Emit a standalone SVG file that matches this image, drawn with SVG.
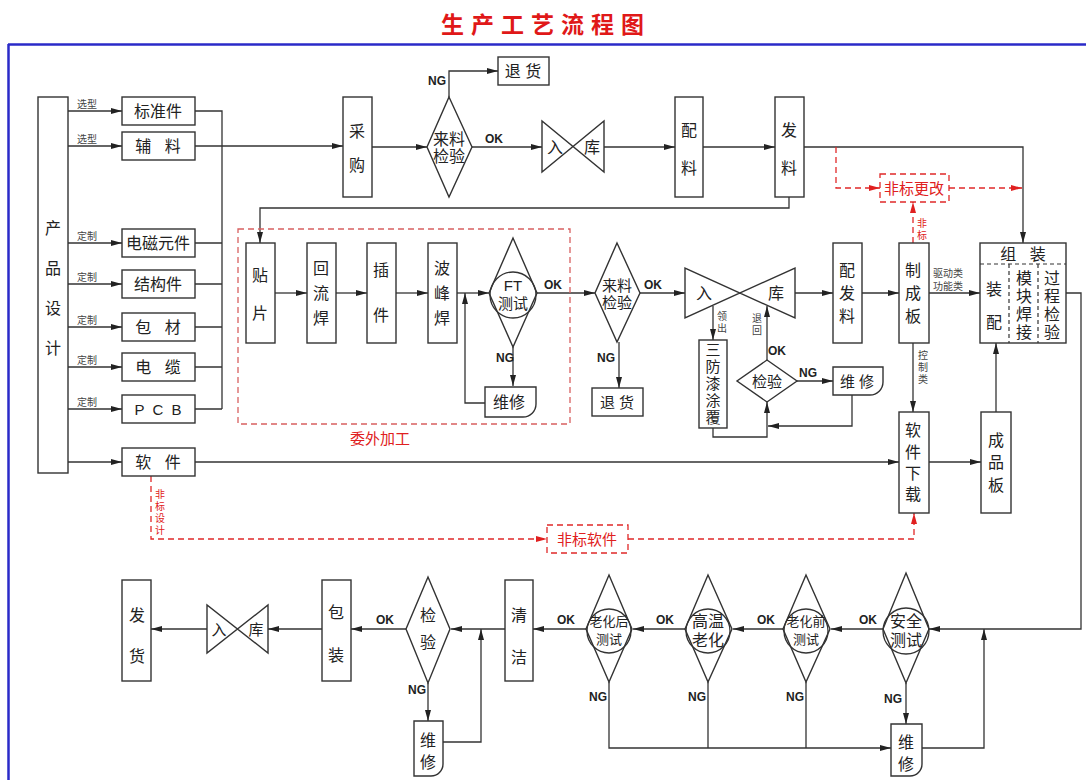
<svg xmlns="http://www.w3.org/2000/svg" width="1086" height="780" viewBox="0 0 1086 780">
<style>
text{font-family:"Liberation Sans","Noto Sans CJK SC",sans-serif;fill:#222;text-anchor:middle;dominant-baseline:central}
.b{fill:#fff;stroke:#333;stroke-width:1.4}
.c{fill:none;stroke:#333;stroke-width:1.3}
.r{fill:none;stroke:#e02828;stroke-width:1.3;stroke-dasharray:6 4}
.rb{fill:#fff;stroke:#e02828;stroke-width:1.3;stroke-dasharray:6 4}
.t16{font-size:16px}
.t15{font-size:15px}
.t13{font-size:13px}
.s{font-size:10px;fill:#444}
.ok{font-size:12px;font-weight:bold}
.red{fill:#e02020}
.dl{fill:none;stroke:#333;stroke-width:1.2;stroke-dasharray:4 3}
</style>
<defs>
<marker id="a" markerUnits="userSpaceOnUse" markerWidth="12" markerHeight="8" refX="11" refY="3" orient="auto"><path d="M0,0 L11,3 L0,6 z" fill="#222"/></marker>
<marker id="ar" markerUnits="userSpaceOnUse" markerWidth="12" markerHeight="8" refX="11" refY="3" orient="auto"><path d="M0,0 L11,3 L0,6 z" fill="#e02020"/></marker>
</defs>
<rect width="1086" height="780" fill="#fff"/>
<text x="546" y="25" style="font-size:23px;font-weight:bold;letter-spacing:7px;fill:#e01818">生产工艺流程图</text>
<g id="frame">
<line x1="8" y1="44.5" x2="1086" y2="44.5" stroke="#2a2ac8" stroke-width="2.5"/>
<line x1="8.5" y1="44" x2="8.5" y2="780" stroke="#2a2ac8" stroke-width="2.5"/>
</g>
<g id="connectors">
<path class="c" marker-end="url(#a)" d="M68,111H122"/>
<path class="c" marker-end="url(#a)" d="M68,146H122"/>
<path class="c" marker-end="url(#a)" d="M68,243H122"/>
<path class="c" marker-end="url(#a)" d="M68,284H122"/>
<path class="c" marker-end="url(#a)" d="M68,327H122"/>
<path class="c" marker-end="url(#a)" d="M68,367H122"/>
<path class="c" marker-end="url(#a)" d="M68,409H122"/>
<path class="c" marker-end="url(#a)" d="M68,462H122"/>
<path class="c" d="M195,111H222V409M195,243H222M195,284H222M195,327H222M195,367H222M195,409H222"/>
<path class="c" marker-end="url(#a)" d="M195,146H343"/>
<path class="c" marker-end="url(#a)" d="M372,147H427"/>
<path class="c" marker-end="url(#a)" d="M449,97V71H498"/>
<path class="c" marker-end="url(#a)" d="M472,147H542"/>
<path class="c" marker-end="url(#a)" d="M604,147H675"/>
<path class="c" marker-end="url(#a)" d="M703,147H775"/>
<path class="c" marker-end="url(#a)" d="M804,147H1023V243"/>
<path class="c" marker-end="url(#a)" d="M789,197V208H260V243"/>
<path class="r" marker-end="url(#ar)" d="M836,147V188H880"/>
<path class="r" marker-end="url(#ar)" d="M949,188H1022"/>
<path class="r" marker-end="url(#ar)" d="M913,243V202"/>
<path class="c" marker-end="url(#a)" d="M275,293H307"/>
<path class="c" marker-end="url(#a)" d="M336,293H367"/>
<path class="c" marker-end="url(#a)" d="M396,293H428"/>
<path class="c" marker-end="url(#a)" d="M457,293H489"/>
<path class="c" marker-end="url(#a)" d="M513,347V386"/>
<path class="c" marker-end="url(#a)" d="M485,403H465V293"/>
<path class="c" marker-end="url(#a)" d="M537,293H595"/>
<path class="c" marker-end="url(#a)" d="M619,342V388"/>
<path class="c" marker-end="url(#a)" d="M640,293H685"/>
<path class="c" marker-end="url(#a)" d="M795,293H833"/>
<path class="c" marker-end="url(#a)" d="M862,293H899"/>
<path class="c" marker-end="url(#a)" d="M929,293H980"/>
<path class="c" marker-end="url(#a)" d="M713,306V340"/>
<path class="c" marker-end="url(#a)" d="M767,360V306"/>
<path class="c" marker-end="url(#a)" d="M713,428V437H767V402"/>
<path class="c" marker-end="url(#a)" d="M797,381H833"/>
<path class="c" marker-end="url(#a)" d="M852,395V426H768"/>
<path class="c" marker-end="url(#a)" d="M913,343V412"/>
<path class="c" marker-end="url(#a)" d="M195,462H899"/>
<path class="c" marker-end="url(#a)" d="M929,462H981"/>
<path class="c" marker-end="url(#a)" d="M996,412V343"/>
<path class="c" marker-end="url(#a)" d="M1066,293H1081V629H929"/>
<path class="r" marker-end="url(#ar)" d="M151,476V539H547"/>
<path class="r" marker-end="url(#ar)" d="M628,539H914V513"/>
<path class="c" marker-end="url(#a)" d="M884,629H831"/>
<path class="c" marker-end="url(#a)" d="M783,629H733"/>
<path class="c" marker-end="url(#a)" d="M685,629H633"/>
<path class="c" marker-end="url(#a)" d="M586,629H533"/>
<path class="c" marker-end="url(#a)" d="M505,629H451"/>
<path class="c" marker-end="url(#a)" d="M406,629H351"/>
<path class="c" marker-end="url(#a)" d="M322,629H268"/>
<path class="c" marker-end="url(#a)" d="M207,629H151"/>
<path class="c" marker-end="url(#a)" d="M428,683V721"/>
<path class="c" marker-end="url(#a)" d="M443,742H481V629"/>
<path class="c" marker-end="url(#a)" d="M609,682V748H891"/>
<path class="c" d="M708,682V748M806,682V748"/>
<path class="c" marker-end="url(#a)" d="M906,683V724"/>
<path class="c" marker-end="url(#a)" d="M922,748H984V629"/>
</g>
<g id="labels">
<text class="s" x="87" y="104">选型</text>
<text class="s" x="87" y="139">选型</text>
<text class="s" x="87" y="236">定制</text>
<text class="s" x="87" y="277">定制</text>
<text class="s" x="87" y="320">定制</text>
<text class="s" x="87" y="360">定制</text>
<text class="s" x="87" y="402">定制</text>
<text class="ok" x="437" y="81">NG</text>
<text class="ok" x="494" y="139">OK</text>
<text class="ok" x="553" y="285">OK</text>
<text class="ok" x="505" y="358">NG</text>
<text class="ok" x="653" y="285">OK</text>
<text class="ok" x="606" y="358">NG</text>
<text class="s" x="722" y="316">领</text>
<text class="s" x="722" y="328">出</text>
<text class="s" x="757" y="318">退</text>
<text class="s" x="757" y="330">回</text>
<text class="ok" x="777" y="351">OK</text>
<text class="ok" x="808" y="373">NG</text>
<text class="s" x="948" y="273">驱动类</text>
<text class="s" x="948" y="286">功能类</text>
<text class="s" x="923" y="355">控</text>
<text class="s" x="923" y="367">制</text>
<text class="s" x="923" y="379">类</text>
<text class="s red" x="922" y="223">非</text>
<text class="s red" x="922" y="235">标</text>
<text class="s red" x="160" y="494">非</text>
<text class="s red" x="160" y="506">标</text>
<text class="s red" x="160" y="518">设</text>
<text class="s red" x="160" y="530">计</text>
<text class="ok" x="868" y="620">OK</text>
<text class="ok" x="766" y="620">OK</text>
<text class="ok" x="665" y="620">OK</text>
<text class="ok" x="566" y="620">OK</text>
<text class="ok" x="385" y="620">OK</text>
<text class="ok" x="417" y="690">NG</text>
<text class="ok" x="598" y="697">NG</text>
<text class="ok" x="697" y="697">NG</text>
<text class="ok" x="795" y="697">NG</text>
<text class="ok" x="893" y="699">NG</text>
</g>
<g id="n_design"><rect class="b" x="38" y="97" width="30" height="376"/><text class="t16" x="53" y="228">产</text><text class="t16" x="53" y="268">品</text><text class="t16" x="53" y="308">设</text><text class="t16" x="53" y="348">计</text></g>
<g id="n_bzj"><rect class="b" x="122" y="97" width="73" height="28"/><text class="t16" x="158" y="111">标准件</text></g>
<g id="n_fl"><rect class="b" x="122" y="132" width="73" height="28"/><text class="t16" x="158" y="146" xml:space="preserve">辅   料</text></g>
<g id="n_dc"><rect class="b" x="122" y="229" width="73" height="28"/><text class="t16" x="158" y="243">电磁元件</text></g>
<g id="n_jg"><rect class="b" x="122" y="270" width="73" height="28"/><text class="t16" x="158" y="284">结构件</text></g>
<g id="n_bc"><rect class="b" x="122" y="313" width="73" height="28"/><text class="t16" x="158" y="327" xml:space="preserve">包   材</text></g>
<g id="n_dl"><rect class="b" x="122" y="353" width="73" height="28"/><text class="t16" x="158" y="367" xml:space="preserve">电   缆</text></g>
<g id="n_pcb"><rect class="b" x="122" y="395" width="73" height="28"/><text class="t15" x="158" y="409" xml:space="preserve">P  C  B</text></g>
<g id="n_rj"><rect class="b" x="122" y="448" width="73" height="28"/><text class="t16" x="158" y="462" xml:space="preserve">软   件</text></g>
<g id="n_cg"><rect class="b" x="343" y="97" width="29" height="100"/><text class="t16" x="357" y="131">采</text><text class="t16" x="357" y="165">购</text></g>
<g id="n_lljy1"><path class="b" d="M449,97L472,147L449,197L427,147Z"/><text class="t16" x="449" y="139">来料</text><text class="t16" x="449" y="156">检验</text></g>
<g id="n_th1"><rect class="b" x="498" y="57" width="51" height="28"/><text class="t16" x="523" y="71" xml:space="preserve">退 货</text></g>
<g id="n_rk1"><path class="b" d="M542,121L542,172L604,121L604,172Z"/><text class="t16" x="555" y="147">入</text><text class="t16" x="592" y="147">库</text></g>
<g id="n_pl"><rect class="b" x="675" y="97" width="28" height="100"/><text class="t16" x="689" y="130">配</text><text class="t16" x="689" y="168">料</text></g>
<g id="n_fal"><rect class="b" x="775" y="97" width="29" height="100"/><text class="t16" x="789" y="130">发</text><text class="t16" x="789" y="168">料</text></g>
<g id="n_fbgg"><rect class="rb" x="880" y="174" width="69" height="28"/><text class="t15 red" x="914" y="188">非标更改</text></g>
<g id="g_wwjg"><rect class="r" style="stroke:#d86060" x="238" y="229" width="332" height="195"/><text class="t15 red" x="380" y="438">委外加工</text></g>
<g id="n_tp"><rect class="b" x="246" y="243" width="29" height="100"/><text class="t16" x="260" y="275">贴</text><text class="t16" x="260" y="313">片</text></g>
<g id="n_hlh"><rect class="b" x="307" y="243" width="29" height="100"/><text class="t16" x="321" y="268">回</text><text class="t16" x="321" y="293">流</text><text class="t16" x="321" y="318">焊</text></g>
<g id="n_cj"><rect class="b" x="367" y="243" width="29" height="100"/><text class="t16" x="381" y="270">插</text><text class="t16" x="381" y="315">件</text></g>
<g id="n_bfh"><rect class="b" x="428" y="243" width="29" height="100"/><text class="t16" x="442" y="268">波</text><text class="t16" x="442" y="293">峰</text><text class="t16" x="442" y="318">焊</text></g>
<g id="n_ft"><path class="b" d="M513,238L537,293L513,347L489,293Z"/><circle class="c" cx="513" cy="295" r="23"/><text class="t15" x="513" y="285">FT</text><text class="t15" x="513" y="303">测试</text></g>
<g id="n_wx1"><path class="b" d="M485,387H536V404A13,13 0 0 1 523,417H485Z"/><text class="t16" x="509" y="402">维修</text></g>
<g id="n_lljy2"><path class="b" d="M617,243L640,293L617,342L595,293Z"/><text class="t15" x="617" y="285">来料</text><text class="t15" x="617" y="302">检验</text></g>
<g id="n_th2"><rect class="b" x="592" y="388" width="51" height="28"/><text class="t15" x="617" y="402" xml:space="preserve">退 货</text></g>
<g id="n_rk2"><path class="b" d="M685,268L685,318L795,268L795,318Z"/><text class="t16" x="704" y="293">入</text><text class="t16" x="776" y="293">库</text></g>
<g id="n_sfq"><rect class="b" x="699" y="340" width="28" height="88"/><text class="t15" x="713" y="349">三</text><text class="t15" x="713" y="366">防</text><text class="t15" x="713" y="383">漆</text><text class="t15" x="713" y="400">涂</text><text class="t15" x="713" y="417">覆</text></g>
<g id="n_jy1"><path class="b" d="M767,360L797,381L767,402L737,381Z"/><text class="t15" x="767" y="381">检验</text></g>
<g id="n_wx2"><path class="b" d="M833,367H883V382A13,13 0 0 1 870,395H833Z"/><text class="t15" x="857" y="381" xml:space="preserve">维 修</text></g>
<g id="n_pfl"><rect class="b" x="833" y="243" width="29" height="100"/><text class="t16" x="847" y="270">配</text><text class="t16" x="847" y="293">发</text><text class="t16" x="847" y="316">料</text></g>
<g id="n_zcb"><rect class="b" x="899" y="243" width="30" height="100"/><text class="t16" x="913" y="270">制</text><text class="t16" x="913" y="293">成</text><text class="t16" x="913" y="316">板</text></g>
<g id="n_zz"><rect class="b" x="980" y="243" width="86" height="100"/><path class="dl" d="M980,264H1066M1009,264V343M1038,264V343"/><text class="t16" x="1023" y="254" xml:space="preserve">组   装</text><text class="t16" x="994" y="289">装</text><text class="t16" x="994" y="322">配</text><text class="t16" x="1024" y="278">模</text><text class="t16" x="1024" y="296">块</text><text class="t16" x="1024" y="314">焊</text><text class="t16" x="1024" y="332">接</text><text class="t16" x="1052" y="278">过</text><text class="t16" x="1052" y="296">程</text><text class="t16" x="1052" y="314">检</text><text class="t16" x="1052" y="332">验</text></g>
<g id="n_rjxz"><rect class="b" x="899" y="412" width="30" height="101"/><text class="t16" x="913" y="430">软</text><text class="t16" x="913" y="452">件</text><text class="t16" x="913" y="473">下</text><text class="t16" x="913" y="494">载</text></g>
<g id="n_cpb"><rect class="b" x="981" y="412" width="30" height="101"/><text class="t16" x="996" y="440">成</text><text class="t16" x="996" y="462">品</text><text class="t16" x="996" y="485">板</text></g>
<g id="n_fbrj"><rect class="rb" x="547" y="525" width="81" height="28"/><text class="t15 red" x="587" y="539">非标软件</text></g>
<g id="n_aqcs"><path class="b" d="M906,573L929,629L906,683L883,629Z"/><circle class="c" cx="906" cy="631" r="23"/><text class="t16" x="906" y="621">安全</text><text class="t16" x="906" y="640">测试</text></g>
<g id="n_lhqcs"><path class="b" d="M806,575L830,629L806,682L783,629Z"/><circle class="c" cx="806" cy="631" r="22"/><text class="t13" x="806" y="621">老化前</text><text class="t13" x="806" y="639">测试</text></g>
<g id="n_gwlh"><path class="b" d="M708,575L732,629L708,682L685,629Z"/><circle class="c" cx="708" cy="631" r="22"/><text class="t16" x="708" y="621">高温</text><text class="t16" x="708" y="640">老化</text></g>
<g id="n_lhhcs"><path class="b" d="M609,575L632,629L609,682L586,629Z"/><circle class="c" cx="609" cy="631" r="22"/><text class="t13" x="609" y="621">老化后</text><text class="t13" x="609" y="639">测试</text></g>
<g id="n_qj"><rect class="b" x="505" y="580" width="28" height="101"/><text class="t16" x="519" y="615">清</text><text class="t16" x="519" y="657">洁</text></g>
<g id="n_jy2"><path class="b" d="M428,577L450,629L428,683L406,629Z"/><text class="t16" x="428" y="615">检</text><text class="t16" x="428" y="642">验</text></g>
<g id="n_wx3"><path class="b" d="M414,721H443V764A12,12 0 0 1 431,776H414Z"/><text class="t16" x="428" y="740">维</text><text class="t16" x="428" y="762">修</text></g>
<g id="n_wx4"><path class="b" d="M891,724H922V764A12,12 0 0 1 910,776H891Z"/><text class="t16" x="906" y="742">维</text><text class="t16" x="906" y="764">修</text></g>
<g id="n_bz"><rect class="b" x="322" y="580" width="29" height="101"/><text class="t16" x="336" y="612">包</text><text class="t16" x="336" y="655">装</text></g>
<g id="n_rk3"><path class="b" d="M207,605L207,653L268,605L268,653Z"/><text class="t15" x="219" y="629">入</text><text class="t15" x="256" y="629">库</text></g>
<g id="n_fh"><rect class="b" x="122" y="580" width="29" height="101"/><text class="t16" x="137" y="615">发</text><text class="t16" x="137" y="656">货</text></g>
</svg>
